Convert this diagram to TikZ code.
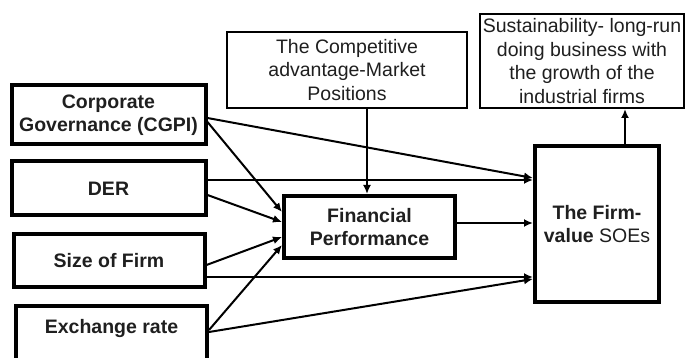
\documentclass[tikz,border=0pt]{standalone}
\usepackage{fontspec}
\setmainfont{Liberation Sans}
\usetikzlibrary{arrows.meta}
\begin{document}
\begin{tikzpicture}[x=1pt,y=-1pt,
  txt/.style={font=\fontsize{19.5}{23.5}\selectfont, text=black!88, align=center},
  btxt/.style={font=\fontsize{19.5}{23.5}\selectfont\bfseries, text=black!88, align=center},
  thickbox/.style={draw, line width=4pt, inner sep=0pt},
  thinbox/.style={draw, line width=2pt, inner sep=0pt},
  conn/.style={line width=2pt, -{Latex[length=9pt,width=8pt]}}]
\useasboundingbox (0,0) rectangle (689,358);
\clip (0,0) rectangle (689,358);
% left boxes
\node[thickbox, btxt, minimum width=194pt, minimum height=59pt] (cgpi) at (108.5,115) {Corporate\\Governance (CGPI)};
\node[thickbox, btxt, minimum width=194pt, minimum height=54pt] (der) at (108.5,188.5) {DER};
\node[thickbox, btxt, minimum width=191pt, minimum height=53pt] (size) at (109,261) {Size of Firm};
\node[thickbox, minimum width=191pt, minimum height=80pt, anchor=north] (exbox) at (111.5,304) {};
\node[btxt] (ex) at (111.5,329) {Exchange rate};
% top boxes
\node[thinbox, txt, minimum width=240pt, minimum height=76pt] (comp) at (347,70) {The Competitive\\advantage-Market\\Positions};
\node[thinbox, txt, minimum width=204pt, minimum height=94pt] (sus) at (582,61) {Sustainability- long-run\\doing business with\\the growth of the\\industrial firms};
% middle and right
\node[thickbox, btxt, minimum width=171pt, minimum height=62pt] (fin) at (369.5,227) {Financial\\Performance};
\node[thickbox, txt, minimum width=124pt, minimum height=156pt] (firm) at (597,224) {\textbf{The Firm-}\\\textbf{value} SOEs};
% connectors
\draw[conn] (cgpi.east |- 0,118) -- (firm.west |- 0,178);
\draw[conn] (cgpi.east |- 0,122) -- (fin.west |- 0,212);
\draw[conn] (der.east |- 0,180) -- (firm.west |- 0,180);
\draw[conn] (der.east |- 0,195) -- (fin.west |- 0,222);
\draw[conn] (size.east |- 0,265) -- (fin.west |- 0,237);
\draw[conn] (size.east |- 0,277) -- (firm.west |- 0,277);
\draw[conn] (exbox.east |- 0,330) -- (fin.west |- 0,245);
\draw[conn] (exbox.east |- 0,332) -- (firm.west |- 0,279);
\draw[conn] (fin.east |- 0,223) -- (firm.west |- 0,223);
\draw[conn] (comp.south -| 367,0) -- (fin.north -| 367,0);
\draw[conn] (firm.north -| 625,0) -- (sus.south -| 625,0);
\end{tikzpicture}
\end{document}
